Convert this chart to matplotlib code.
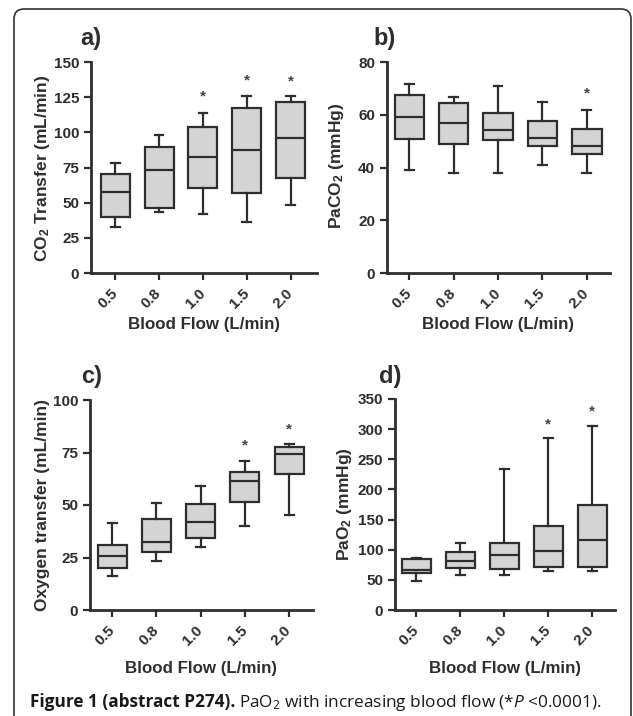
import matplotlib
matplotlib.use("Agg")
import matplotlib.pyplot as plt
from matplotlib.patches import FancyBboxPatch

plt.rcParams["font.family"] = "Liberation Sans"
plt.rcParams["mathtext.fontset"] = "custom"
plt.rcParams["mathtext.rm"] = "Open Sans"
plt.rcParams["mathtext.it"] = "Open Sans:italic"
plt.rcParams["mathtext.bf"] = "Liberation Sans:bold"

# === Data ===
flow_labels = ["0.5", "0.8", "1.0", "1.5", "2.0"]

# a) CO2 transfer (mL/min)
co2_low = [32.6, 43.2, 42.0, 36.0, 48.2]
co2_q1 = [39.7, 46.0, 60.7, 57.2, 67.8]
co2_med = [57.9, 73.0, 82.4, 87.6, 95.7]
co2_q3 = [70.4, 89.8, 103.5, 117.0, 121.4]
co2_high = [78.0, 98.3, 114.0, 126.0, 126.0]
co2_star = [None, None, 125.7, 137.0, 136.0]

# b) PaCO2 (mmHg)
paco2_low = [38.9, 37.9, 37.9, 40.8, 37.9]
paco2_q1 = [50.9, 48.9, 50.3, 48.3, 45.0]
paco2_med = [59.3, 56.9, 54.1, 51.3, 48.0]
paco2_q3 = [67.3, 64.6, 60.8, 57.6, 54.5]
paco2_high = [71.8, 66.9, 70.9, 64.9, 61.8]
paco2_star = [None, None, None, None, 68.0]

# c) Oxygen transfer (mL/min)
o2_low = [16.3, 23.5, 30.2, 40.0, 45.1]
o2_q1 = [19.8, 27.5, 34.1, 51.4, 64.6]
o2_med = [25.7, 32.4, 41.9, 61.3, 74.3]
o2_q3 = [31.0, 43.5, 50.3, 65.9, 77.5]
o2_high = [41.6, 51.1, 59.0, 71.1, 79.0]
o2_star = [None, None, None, 78.4, 86.0]

# d) PaO2 (mmHg)
pao2_low = [48.2, 58.1, 58.1, 65.3, 65.3]
pao2_q1 = [60.9, 70.3, 68.7, 71.4, 71.4]
pao2_med = [66.4, 82.0, 92.0, 98.6, 116.3]
pao2_q3 = [85.0, 96.3, 111.8, 140.0, 174.4]
pao2_high = [86.0, 111.8, 233.7, 285.0, 304.5]
pao2_star = [None, None, None, 308.0, 330.0]

W, H = 633, 716
dark = "#2e2e2e"
fig = plt.figure(figsize=(W / 100, H / 100), dpi=100)


def box_panel(px, xlim, ylim, yticks, low, q1, med, q3, high, stars):
    # px = (left, top, right, bottom) in pixels
    l, t, r, b = px
    ax = fig.add_axes([l / W, 1 - b / H, (r - l) / W, (b - t) / H])
    stats = [dict(whislo=a, q1=c, med=m, q3=d, whishi=e)
             for a, c, m, d, e in zip(low, q1, med, q3, high)]
    ax.bxp(stats, positions=range(len(stats)), widths=0.66, capwidths=0.2,
           showfliers=False, patch_artist=True,
           boxprops=dict(facecolor="#d4d4d4", edgecolor=dark, linewidth=1.6),
           medianprops=dict(color=dark, linewidth=1.6),
           whiskerprops=dict(color=dark, linewidth=1.6),
           capprops=dict(color=dark, linewidth=1.6))
    for i, s in enumerate(stars):
        if s is not None:
            ax.text(i, s, "*", ha="center", va="center", fontsize=11,
                    fontweight="bold", color="#444444")
    ax.set_xlim(*xlim)
    ax.set_ylim(*ylim)
    ax.set_yticks(yticks)
    ax.set_xticks(range(len(flow_labels)), flow_labels, rotation=45,
                  ha="right", va="center", rotation_mode="anchor")
    for sp in ["top", "right"]:
        ax.spines[sp].set_visible(False)
    for sp in ["left", "bottom"]:
        ax.spines[sp].set_linewidth(2)
        ax.spines[sp].set_color(dark)
    ax.tick_params(direction="out", length=5, width=1.6, color=dark,
                   labelsize=11, labelcolor=dark)
    ax.tick_params(axis="x", pad=8)
    for lab in ax.get_xticklabels() + ax.get_yticklabels():
        lab.set_fontweight("bold")
    return ax


box_panel((91, 62, 317, 273), (-0.55, 4.6), (0, 150), range(0, 151, 25),
          co2_low, co2_q1, co2_med, co2_q3, co2_high, co2_star)
box_panel((387, 62, 610, 273), (-0.5, 4.52), (0, 80), range(0, 81, 20),
          paco2_low, paco2_q1, paco2_med, paco2_q3, paco2_high, paco2_star)
box_panel((90, 400, 313, 610), (-0.5, 4.54), (0, 100), range(0, 101, 25),
          o2_low, o2_q1, o2_med, o2_q3, o2_high, o2_star)
box_panel((395, 399, 615, 610), (-0.48, 4.52), (0, 350), range(0, 351, 50),
          pao2_low, pao2_q1, pao2_med, pao2_q3, pao2_high, pao2_star)

# === Labels ===
def ftext(x, y, s, **kw):
    return fig.text(x / W, 1 - y / H, s, **kw)


ylab_kw = dict(rotation=90, ha="center", va="center", fontsize=12.5,
               fontweight="bold", color=dark)
ftext(43, 168, r"CO$_\mathbf{2}$ Transfer (mL/min)", **ylab_kw)
ftext(336, 166, r"PaCO$_\mathbf{2}$ (mmHg)", **ylab_kw)
ftext(43, 505, "Oxygen transfer (mL/min)", **ylab_kw)
ftext(344, 504, r"PaO$_\mathbf{2}$ (mmHg)", **ylab_kw)

xlab_kw = dict(ha="center", va="center", fontsize=12.2, fontweight="bold",
               color=dark)
ftext(204, 325, "Blood Flow (L/min)", **xlab_kw)
ftext(498, 325, "Blood Flow (L/min)", **xlab_kw)
ftext(201, 668, "Blood Flow (L/min)", **xlab_kw)
ftext(505, 668, "Blood Flow (L/min)", **xlab_kw)

let_kw = dict(ha="center", va="center", fontsize=17, fontweight="bold",
              color=dark)
ftext(91, 38, "a)", **let_kw)
ftext(385, 38, "b)", **let_kw)
ftext(92, 377, "c)", **let_kw)
ftext(390, 376, "d)", **let_kw)

# === Caption ===
cap1 = ftext(30, 707, "Figure 1 (abstract P274).", fontsize=12.4,
             fontweight="bold", family="Open Sans", va="baseline",
             color="#1a1a1a")
renderer = fig.canvas.get_renderer()
bb = cap1.get_window_extent(renderer)
fig.text((bb.x1 + 4) / W, 1 - 707 / H,
         r"PaO$_2$ with increasing blood flow (*$P$ <0.0001).",
         fontsize=12.4, family="Open Sans", va="baseline", color="#1a1a1a")

# === Frame ===
frame = FancyBboxPatch((0.14, -0.5), 6.17, 7.57,
                       boxstyle="round,pad=0,rounding_size=0.1",
                       transform=fig.dpi_scale_trans, facecolor="none",
                       edgecolor="#333333", linewidth=1.2)
fig.patches.append(frame)

fig.savefig("out.png", dpi=100)
